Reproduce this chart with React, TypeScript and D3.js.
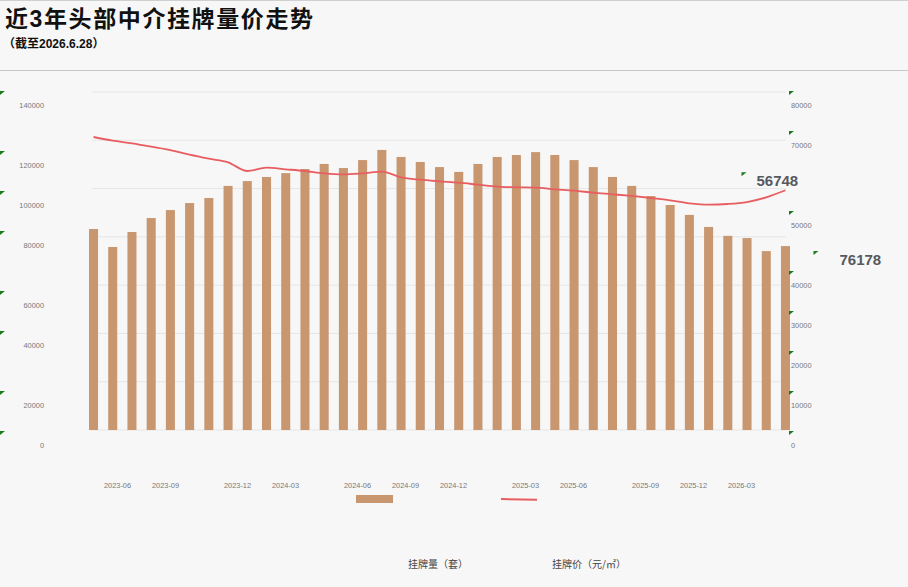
import * as d3 from 'd3'

const months = [
  '2023-06', '2023-07', '2023-08', '2023-09', '2023-10', '2023-11', '2023-12',
  '2024-01', '2024-02', '2024-03', '2024-04', '2024-05', '2024-06', '2024-07',
  '2024-08', '2024-09', '2024-10', '2024-11', '2024-12', '2025-01', '2025-02',
  '2025-03', '2025-04', '2025-05', '2025-06', '2025-07', '2025-08', '2025-09',
  '2025-10', '2025-11', '2025-12', '2026-01', '2026-02', '2026-03', '2026-04',
  '2026-05', '2026-06',
]

// 挂牌量（套）
const listings = [
  83250, 75800, 82000, 87800, 91100, 94000, 96100, 101100, 103100, 104800,
  106400, 108100, 110200, 108500, 111800, 116000, 113100, 111000, 108900,
  106900, 110200, 113100, 113900, 115100, 113900, 111800, 108900, 104800,
  101100, 96900, 93200, 89100, 84100, 80400, 79500, 74100, 76178,
]

// 挂牌价（元/㎡）
const prices = [
  69350, 68480, 67860, 67050, 66270, 65160, 64210, 63360, 61300, 62080,
  61700, 61300, 60760, 60520, 60760, 61140, 59810, 59240, 58860, 58530,
  58060, 57590, 57440, 57350, 56970, 56640, 56170, 55790, 55390, 54910,
  54370, 53660, 53330, 53490, 53960, 55080, 56748,
]

const xTickLabels = [
  '2023-06', '2023-09', '2023-12', '2024-03', '2024-06', '2024-09',
  '2024-12', '2025-03', '2025-06', '2025-09', '2025-12', '2026-03',
]
const leftTicks = [140000, 120000, 100000, 80000, 60000, 40000, 20000, 0]
const rightTicks = [80000, 70000, 50000, 40000, 30000, 20000, 10000, 0]

// where the labels sit on the picture's loose label grid
const xLabelSlots = [0, 2, 5, 7, 10, 12, 14, 17, 19, 22, 24, 26]
const leftLabelSlots = [0, 3, 5, 7, 10, 12, 15, 17]
const rightLabelSlots = [0, 2, 6, 9, 11, 13, 15, 17]

const W = 908
const H = 587
const BAR = '#c8966f'
const LINE = '#e85d60'
const NUM_FONT = '"Liberation Sans", Arial, sans-serif'
const CJK_FONT = '"Noto Sans CJK SC", "Liberation Sans", sans-serif'

const Marker = ({ x, y }: { x: number; y: number }) => (
  <path d={`M${x},${y}h5l-5,4z`} fill="#1b7a1b" />
)

export default function App() {
  const x = d3
    .scaleBand<string>()
    .domain(months)
    .range([89, 790])
    .paddingInner(0.53)
    .paddingOuter(0)
  const yL = d3.scaleLinear().domain([0, 140000]).range([430, 92])
  const yR = d3.scaleLinear().domain([0, 80000]).range([430, 92])
  const slotX = d3.scaleLinear().domain([0, 26]).range([117.5, 741.5])
  const slotY = d3.scaleLinear().domain([0, 17]).range([105, 445])

  const cx = (m: string) => (x(m) ?? 0) + x.bandwidth() / 2

  const linePath = d3
    .line<number>()
    .x((_, i) => cx(months[i]))
    .y((d) => yR(d))
    .curve(d3.curveMonotoneX)(prices)

  const lastM = months[months.length - 1]
  const lastPrice = prices[prices.length - 1]
  const lastListing = listings[listings.length - 1]

  return (
    <div style={{ position: 'fixed', left: 0, top: 0, width: W, height: H }}>
      <svg width={W} height={H} style={{ display: 'block', background: '#f7f7f7' }}>
        <line x1={0} x2={W} y1={0.5} y2={0.5} stroke="#d0d0d0" />
        <text
          x={5}
          y={26.7}
          fontFamily={CJK_FONT}
          fontWeight={700}
          fontSize={23}
          letterSpacing={1.6}
          fill="#111"
        >
          近<tspan fontFamily={NUM_FONT}>3</tspan>年头部中介挂牌量价走势
        </text>
        <text x={3} y={47.5} fontFamily={CJK_FONT} fontWeight={700} fontSize={12} fill="#111">
          （截至<tspan fontFamily={NUM_FONT} fontSize={12}>2026.6.28</tspan>）
        </text>
        <line x1={0} x2={W} y1={70.5} y2={70.5} stroke="#c8c8c8" />

        {yL.ticks(7).map((t) => (
          <line key={t} x1={92} x2={786} y1={yL(t)} y2={yL(t)} stroke="#e6e6e6" strokeWidth={1} />
        ))}

        {listings.map((v, i) => (
          <rect
            key={months[i]}
            x={x(months[i])}
            y={yL(v)}
            width={x.bandwidth()}
            height={yL(0) - yL(v)}
            fill={BAR}
          />
        ))}

        <path d={linePath ?? ''} fill="none" stroke={LINE} strokeWidth={1.8} />

        {leftTicks.map((t, i) => (
          <g key={t}>
            <Marker x={0} y={slotY(leftLabelSlots[i]) - 14} />
            <text
              x={44}
              y={slotY(leftLabelSlots[i])}
              dy="0.35em"
              textAnchor="end"
              fontFamily={NUM_FONT}
              fontSize={7.4}
              fill="#777"
            >
              {t}
            </text>
          </g>
        ))}

        {rightTicks.map((t, i) => (
          <g key={t}>
            <Marker x={789} y={slotY(rightLabelSlots[i]) - 14} />
            <text
              x={791}
              y={slotY(rightLabelSlots[i])}
              dy="0.35em"
              fontFamily={NUM_FONT}
              fontSize={7.4}
              fill="#777"
            >
              {t}
            </text>
          </g>
        ))}

        {xTickLabels.map((l, i) => (
          <text
            key={l}
            x={slotX(xLabelSlots[i])}
            y={485}
            dy="0.35em"
            textAnchor="middle"
            fontFamily={NUM_FONT}
            fontSize={7.4}
            fill="#777"
          >
            {l}
          </text>
        ))}

        <Marker x={cx(lastM) - 44} y={yR(lastPrice) - 18} />
        <text
          x={cx(lastM) - 29}
          y={yR(lastPrice) - 9}
          dy="0.35em"
          fontFamily={NUM_FONT}
          fontWeight={700}
          fontSize={15}
          fill="#555a60"
        >
          {lastPrice}
        </text>
        <Marker x={cx(lastM) + 28} y={yL(lastListing) + 5} />
        <text
          x={cx(lastM) + 54}
          y={yL(lastListing) + 14}
          dy="0.35em"
          fontFamily={NUM_FONT}
          fontWeight={700}
          fontSize={15}
          fill="#555a60"
        >
          {lastListing}
        </text>

        <rect x={356} y={495} width={37} height={8} fill={BAR} />
        <line x1={501} x2={537} y1={499} y2={499.8} stroke={LINE} strokeWidth={2} />
        <text x={408} y={564} dy="0.35em" fontFamily={CJK_FONT} fontSize={10} fill="#444">
          挂牌量（套）
        </text>
        <text x={552} y={564} dy="0.35em" fontFamily={CJK_FONT} fontSize={10} fill="#444">
          挂牌价（元/㎡）
        </text>
      </svg>
    </div>
  )
}
